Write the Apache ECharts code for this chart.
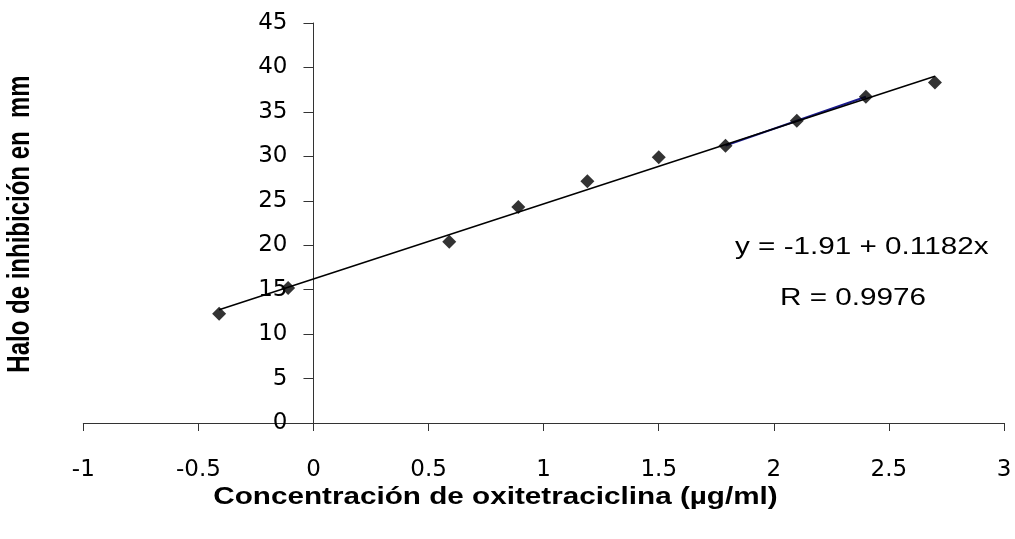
<!DOCTYPE html>
<html>
<head>
<meta charset="utf-8">
<script src="https://cdn.jsdelivr.net/npm/echarts@6/dist/echarts.min.js"></script>
<style>
html,body{margin:0;padding:0;background:#fff;}
#chart{width:1015px;height:539px;}
</style>
</head>
<body>
<div id="chart"></div>
<script>
// Data
const logConc = [-0.41, -0.11, 0.59, 0.89, 1.19, 1.50, 1.79, 2.10, 2.40, 2.70];
const halo    = [12.3, 15.2, 20.4, 24.3, 27.2, 29.9, 31.2, 34.0, 36.7, 38.3];
const trendX  = [-0.41, 2.70];
const trendY  = [12.75, 39.0];
const blueX   = [1.79, 2.10, 2.40];
const blueY   = [31.2, 34.0, 36.7];
const xTicks  = { min: -1, max: 3, step: 0.5 };
const yTicks  = { min: 0, max: 45, step: 5 };
const equationText = 'y = -1.91 + 0.1182x';
const rText = 'R = 0.9976';
const xTitle = 'Concentración de oxitetraciclina (µg/ml)';
const yTitle = 'Halo de inhibición en  mm';

const FONT = '"Liberation Sans", Arial, Helvetica, sans-serif';
const TICKFONT = '"DejaVu Sans", "Liberation Sans", Arial, sans-serif';
const WIDE = 1.29; // horizontal stretch of the reference lettering
const zip = (a, b) => a.map((v, i) => [v, b[i]]);

const GRID = { left: 83.3, right: 11, top: 23, bottom: 116 };
const plotW = 1015 - GRID.left - GRID.right;
// y axis sits at x = 0 of the x scale
const yAxisOffset = -plotW * (0 - xTicks.min) / (xTicks.max - xTicks.min);

const chart = echarts.init(document.getElementById('chart'), null, {renderer: 'canvas'});
chart.setOption({
  backgroundColor: '#ffffff',
  animation: false,
  grid: Object.assign({ containLabel: false }, GRID),
  xAxis: {
    type: 'value',
    min: xTicks.min, max: xTicks.max, interval: xTicks.step,
    splitLine: { show: false },
    axisLine: { show: true, onZero: false, lineStyle: { color: '#333', width: 1 } },
    axisTick: { show: true, inside: false, length: 8, lineStyle: { color: '#333', width: 1 } },
    axisLabel: { margin: 36, fontFamily: TICKFONT, fontSize: 23, color: '#000' }
  },
  yAxis: {
    type: 'value',
    position: 'left',
    offset: yAxisOffset,
    min: yTicks.min, max: yTicks.max, interval: yTicks.step,
    splitLine: { show: false },
    axisLine: { show: true, onZero: false, lineStyle: { color: '#333', width: 1 } },
    axisTick: { show: true, inside: false, length: 10, lineStyle: { color: '#333', width: 1 } },
    axisLabel: { margin: 26, fontFamily: TICKFONT, fontSize: 23, color: '#000' }
  },
  series: [
    {
      type: 'line',
      data: zip(blueX, blueY),
      symbol: 'none',
      lineStyle: { color: '#1a1a8c', width: 2 },
      z: 2
    },
    {
      type: 'line',
      data: zip(trendX, trendY),
      symbol: 'none',
      lineStyle: { color: '#000', width: 1.5 },
      z: 3
    },
    {
      type: 'scatter',
      data: zip(logConc, halo),
      symbol: 'diamond',
      symbolSize: [14, 14],
      itemStyle: { color: '#000' },
      z: 4
    }
  ],
  graphic: [
    { type: 'text', x: 735, y: 248, scaleX: WIDE, style: { text: equationText, fontFamily: FONT, fontSize: 23, fill: '#000', align: 'left', verticalAlign: 'middle' } },
    { type: 'text', x: 780, y: 299, scaleX: WIDE, style: { text: rText, fontFamily: FONT, fontSize: 23, fill: '#000', align: 'left', verticalAlign: 'middle' } },
    { type: 'text', x: 495.5, y: 498, scaleX: WIDE, style: { text: xTitle, fontFamily: FONT, fontSize: 23, fontWeight: 'bold', fill: '#000', align: 'center', verticalAlign: 'middle' } },
    { type: 'text', x: 20, y: 224, rotation: Math.PI / 2, scaleY: WIDE, style: { text: yTitle, fontFamily: FONT, fontSize: 24, fontWeight: 'bold', fill: '#000', align: 'center', verticalAlign: 'middle' } }
  ]
});
</script>
</body>
</html>
